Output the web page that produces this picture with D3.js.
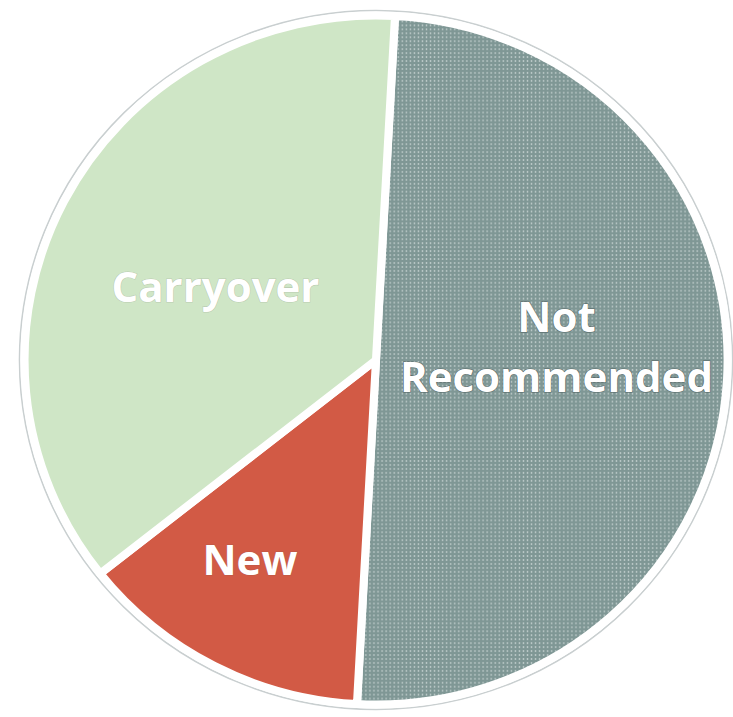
<!DOCTYPE html>
<html>
<head>
<meta charset="utf-8">
<script src="https://cdn.jsdelivr.net/npm/d3@7"></script>
<style>
  html, body { margin: 0; padding: 0; background: #ffffff; }
  svg { display: block; }
</style>
</head>
<body>
<div id="container"></div>
<script>
  // slice data, clockwise from 12 o'clock
  const categories = ['Not Recommended', 'New', 'Carryover'];
  const values = [50, 13.5, 36.5];
  const labelLines = [['Not', 'Recommended'], ['New'], ['Carryover']];
  const colors = ['#7f9795', '#d25a45', '#cfe6c6'];

  const width = 733;
  const height = 717;
  const cx = 376, cy = 360;
  const radius = 348;
  const rotation = 3.1 * Math.PI / 180;

  const svg = d3.select('#container').append('svg')
    .attr('width', width)
    .attr('height', height);

  // halftone look of the scanned grey slice
  const defs = svg.append('defs');
  const pat = defs.append('pattern')
    .attr('id', 'halftone')
    .attr('patternUnits', 'userSpaceOnUse')
    .attr('width', 4)
    .attr('height', 4);
  pat.append('rect').attr('width', 4).attr('height', 4).attr('fill', colors[0]);
  pat.append('circle').attr('cx', 2).attr('cy', 2).attr('r', 0.8).attr('fill', '#d9e2e1');

  const pie = d3.pie()
    .sort(null)
    .startAngle(rotation)
    .endAngle(rotation + 2 * Math.PI)
    .value((d) => d.value);

  const slices = pie(categories.map((c, i) => ({ name: c, value: values[i], color: colors[i], lines: labelLines[i] })));

  const arc = d3.arc().innerRadius(0).outerRadius(radius);

  const g = svg.append('g')
    .attr('transform', `translate(${cx}, ${cy}) scale(1.01, 0.99)`);

  // thin grey rim outside the white border
  g.append('circle')
    .attr('r', radius + 5)
    .attr('fill', '#ffffff')
    .attr('stroke', '#c9cfd0')
    .attr('stroke-width', 1.5);

  g.selectAll('path.slice')
    .data(slices)
    .enter()
    .append('path')
    .attr('class', 'slice')
    .attr('d', arc)
    .attr('fill', (d, i) => i === 0 ? 'url(#halftone)' : d.data.color)
    .attr('stroke', '#ffffff')
    .attr('stroke-width', 8)
    .attr('stroke-linejoin', 'round');

  // label placement: radius fraction and angle nudge (degrees) per slice
  const labelFrac = { 'Not Recommended': 0.52, 'New': 0.68, 'Carryover': 0.507 };
  const labelNudge = { 'Not Recommended': -7.2, 'New': 4.8, 'Carryover': -2.9 };
  const fs = 42;
  const lh = 60;

  const labels = svg.append('g')
    .attr('transform', `translate(${cx}, ${cy})`);

  slices.forEach((d) => {
    const mid = (d.startAngle + d.endAngle) / 2 + labelNudge[d.data.name] * Math.PI / 180;
    const p = d3.pointRadial(mid, radius * labelFrac[d.data.name]);
    const n = d.data.lines.length;
    const t = labels.append('text')
      .attr('text-anchor', 'middle')
      .attr('fill', '#ffffff')
      .attr('stroke', d.data.name === 'Not Recommended' ? 'rgba(40,50,50,0.5)' : 'rgba(80,80,80,0.2)')
      .attr('stroke-width', 1.2)
      .attr('paint-order', 'stroke')
      .style('font-family', '"Open Sans", "Liberation Sans", sans-serif')
      .style('font-weight', 700)
      .style('font-size', fs + 'px');
    d.data.lines.forEach((line, i) => {
      t.append('tspan')
        .attr('x', p[0])
        .attr('y', p[1] - (n - 1) * lh / 2 + i * lh)
        .attr('dy', '0.36em')
        .text(line);
    });
  });
</script>
</body>
</html>
